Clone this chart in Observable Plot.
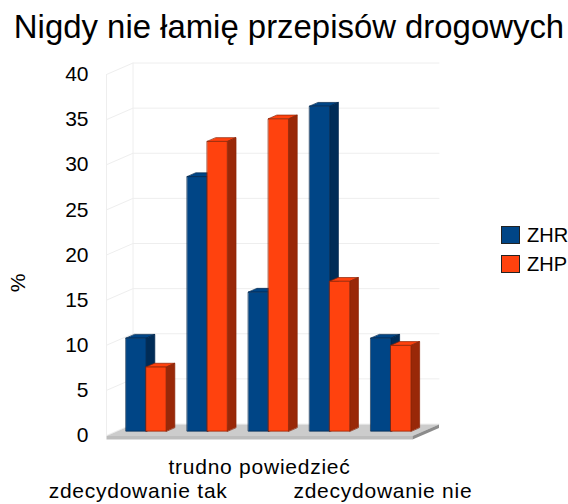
<!DOCTYPE html>
<html>
<head>
<meta charset="utf-8">
<script src="https://cdn.jsdelivr.net/npm/d3@7"></script>
<script src="https://cdn.jsdelivr.net/npm/@observablehq/plot@0.6"></script>
<style>
  html, body { margin: 0; padding: 0; background: #fff; }
  body { width: 568px; height: 504px; position: relative; overflow: hidden; font-family: "Liberation Sans", sans-serif; color: #000; }
  #title { height: 52px; line-height: 54px; font-size: 32.9px; text-align: center; white-space: nowrap; margin-left: 10px; }
  #chart svg { display: block; }
  #legend { position: absolute; left: 501px; top: 226px; font-size: 20px; white-space: nowrap; }
  .row { display: flex; align-items: center; height: 18px; margin-bottom: 11px; }
  .sw { width: 17px; height: 16px; border: 1px solid #222; margin-right: 7px; flex: none; }
  .xl text { letter-spacing: 0.75px; }
</style>
</head>
<body>
<div id="title">Nigdy nie łamię przepisów drogowych</div>
<div id="chart"></div>
<div id="legend"></div>
<script>
const categories = ["zdecydowanie tak", "", "trudno powiedzieć", "", "zdecydowanie nie"];
const seriesNames = ["ZHR", "ZHP"];
const ZHR = [10.3, 28.2, 15.4, 36.0, 10.3];
const ZHP = [7.1, 32.1, 34.6, 16.6, 9.5];
const yTicks = [0, 5, 10, 15, 20, 25, 30, 35, 40];
const front = {ZHR: "#004586", ZHP: "#ff420e"};
const side = {ZHR: "#002c57", ZHP: "#992808"};
const edge = {ZHR: "#00274d", ZHP: "#8a2407"};

// oblique projection, expressed in data units
const dX = 0.433, dY = 1.274;
const px = (x, d) => x + d * dX;
const py = (v, d) => v + d * dY;
const barW = 0.327, d0 = 0.38, d1 = 0.71, barShift = -0.018;

const polys = [];
let id = 0;
function poly(pts, fill, stroke) {
  id++;
  for (const [x, y] of pts) polys.push({id, x, y, fill, stroke});
}
categories.forEach((c, i) => {
  seriesNames.forEach((s, k) => {
    const v = (s === "ZHR" ? ZHR : ZHP)[i];
    const a = i + 0.5 + barShift - barW + k * barW, b = a + barW;
    const p = (x, val, d) => [px(x, d), py(val, d)];
    poly([p(a, v, d0), p(b, v, d0), p(b, v, d1), p(a, v, d1)], front[s], edge[s]);
    poly([p(b, 0, d0), p(b, v, d0), p(b, v, d1), p(b, 0, d1)], side[s], edge[s]);
    poly([p(a, 0, d0), p(b, 0, d0), p(b, v, d0), p(a, v, d0)], front[s], edge[s]);
  });
});

const gridLines = [];
yTicks.forEach(v => {
  const g = "g" + v;
  gridLines.push({g, x: 0, y: v}, {g, x: px(0, 1), y: py(v, 1)}, {g, x: px(5, 1), y: py(v, 1)});
});
gridLines.push({g: "a", x: 0, y: 0}, {g: "a", x: 0, y: 40});
gridLines.push({g: "b", x: px(0, 1), y: py(0, 1)}, {g: "b", x: px(0, 1), y: py(40, 1)});

const slab = 0.4;
const floorTop = [[0, -0.05], [5, -0.05], [px(5, 1), py(-0.05, 1)], [px(0, 1), py(-0.05, 1)]];
const floorFront = [[0, -0.05], [5, -0.05], [5, -0.05 - slab], [0, -0.05 - slab]];
const floorSide = [[5, -0.05], [px(5, 1), py(-0.05, 1)], [px(5, 1), py(-0.05 - slab, 1)], [5, -0.05 - slab]];
const floorPolys = [
  ...floorTop.map(([x, y]) => ({id: "t", x, y, fill: "#cccccc"})),
  ...floorFront.map(([x, y]) => ({id: "f", x, y, fill: "#bdbdbd"})),
  ...floorSide.map(([x, y]) => ({id: "s", x, y, fill: "#8c8c8c"}))
];

const labelled = categories.map((label, i) => ({label, i})).filter(d => d.label);

const plot = Plot.plot({
  width: 568,
  height: 452,
  marginLeft: 106,
  marginRight: 129,
  marginTop: 22,
  marginBottom: 69,
  x: {type: "linear", domain: [0, 5], range: [106, 412], axis: null},
  y: {type: "linear", domain: [0, 40], range: [383, 22], axis: null},
  color: {type: "identity"},
  style: {fontFamily: "Liberation Sans", background: "#fff", color: "#000", overflow: "visible"},
  marks: [
    Plot.line(gridLines, {x: "x", y: "y", z: "g", stroke: "#eeeeee", strokeWidth: 1}),
    Plot.line(floorPolys, {x: "x", y: "y", z: "id", fill: "fill", stroke: "none", curve: "linear-closed"}),
    Plot.line(polys, {x: "x", y: "y", z: "id", fill: "fill", stroke: "stroke", strokeWidth: 0.7, curve: "linear-closed"}),
    Plot.axisY(yTicks, {anchor: "left", tickSize: 0, tickPadding: 18, fontSize: 21, label: null}),
    Plot.text(labelled.filter(d => d.i === 2), {
      x: d => d.i + 0.5, y: 0, text: "label", dx: 0, dy: 32, fontSize: 21, className: "xl"
    }),
    Plot.text(labelled.filter(d => d.i !== 2), {
      x: d => d.i + 0.5, y: 0, text: "label", dx: 1, dy: 56, fontSize: 21, className: "xl"
    }),
    Plot.text(["%"], {x: -1.44, y: 16.9, text: d => d, rotate: -90, fontSize: 21})
  ]
});
document.getElementById("chart").append(plot);

const legend = document.getElementById("legend");
seriesNames.forEach(s => {
  const r = document.createElement("div");
  r.className = "row";
  const sw = document.createElement("div");
  sw.className = "sw";
  sw.style.background = front[s];
  const t = document.createElement("span");
  t.textContent = s;
  r.append(sw, t);
  legend.append(r);
});
</script>
</body>
</html>
